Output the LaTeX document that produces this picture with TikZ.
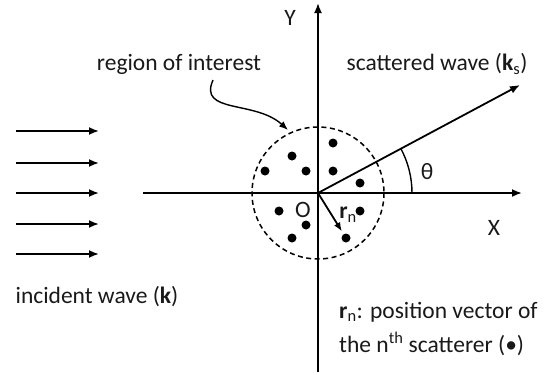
\documentclass[tikz,border=0pt]{standalone}
\usepackage{fontspec}
\setmainfont{Carlito}
\usetikzlibrary{arrows.meta}
\begin{document}
\begin{tikzpicture}[x=1pt,y=-1pt,
  txt/.style={font=\fontsize{23.5}{28}\selectfont, inner sep=0pt, text=black!90},
  ax/.style={line width=1.8pt, -{Latex[length=10pt,width=8pt]}},
  inc/.style={line width=1.8pt, -{Latex[length=10pt,width=8pt]}},
  dot/.style={circle, fill=black, inner sep=0pt, minimum size=9pt},
  ]
\useasboundingbox (0,0) rectangle (544,375);
% axes
\coordinate (O) at (318,193);
\coordinate (ybot) at (318,372);
\coordinate (ytop) at (318,3);
\coordinate (xl) at (143,193);
\coordinate (xr) at (522,193);
\draw[ax] (ybot) -- (ytop);
\draw[ax] (xl) -- (xr);
\node[txt] (Y) at (290,18) {Y};
\node[txt] (X) at (494,228) {X};
% region
\draw[line width=1.5pt, dash pattern=on 5pt off 3.5pt] (O) circle[radius=66];
% dots
\foreach \n/\p in {1/{(333,143)},2/{(292,156)},3/{(265,171)},4/{(306,171)},5/{(333,171)},6/{(360,183)},7/{(279,211)},8/{(360,211)},9/{(306,225)},10/{(292,238)}}
  \node[dot] (d\n) at \p {};
\node[dot] (dn) at (346,238) {};
% r_n vector
\draw[line width=1.8pt, -{Latex[length=9pt,width=7pt]}, shorten >=3pt] (O) -- (dn);
\node[txt] (O label) at (303,210) {O};
\node[txt] (rn) at (348,215) {\textbf{r}\textsubscript{n}};
% scattered
\coordinate (ks) at (520,85);
\draw[ax] (O) -- (ks);
\draw[line width=1.4pt] ([shift={(0:94)}]O) arc[start angle=0, end angle=-28.2, radius=94];
\node[txt] (theta) at (427,172) {θ};
\node[txt] (sc) at (437,64) {scattered wave (\textbf{k}\textsubscript{s})};
% region of interest
\node[txt] (roi) at (179,64) {region of interest};
\coordinate (roistart) at (213,80);
\draw[line width=1.4pt, -{Latex[length=9pt,width=7pt]}] (roistart) .. controls (198,114) and (255,100) .. (288,130);
% incident
\foreach \i/\yy in {1/131,2/163,3/193,4/224,5/254} {
  \coordinate (a\i) at (16,\yy);
  \coordinate (b\i) at (99,\yy);
  \draw[inc] (a\i) -- (b\i);
}
\node[txt] (inc) at (97,297) {incident wave (\textbf{k})};
\node[txt, anchor=west] (pos1) at (339,312) {\textbf{r}\textsubscript{n}: position vector of};
\node[txt, anchor=west] (pos2) at (339,344) {the n\textsuperscript{th} scatterer (•)};
\end{tikzpicture}
\end{document}
